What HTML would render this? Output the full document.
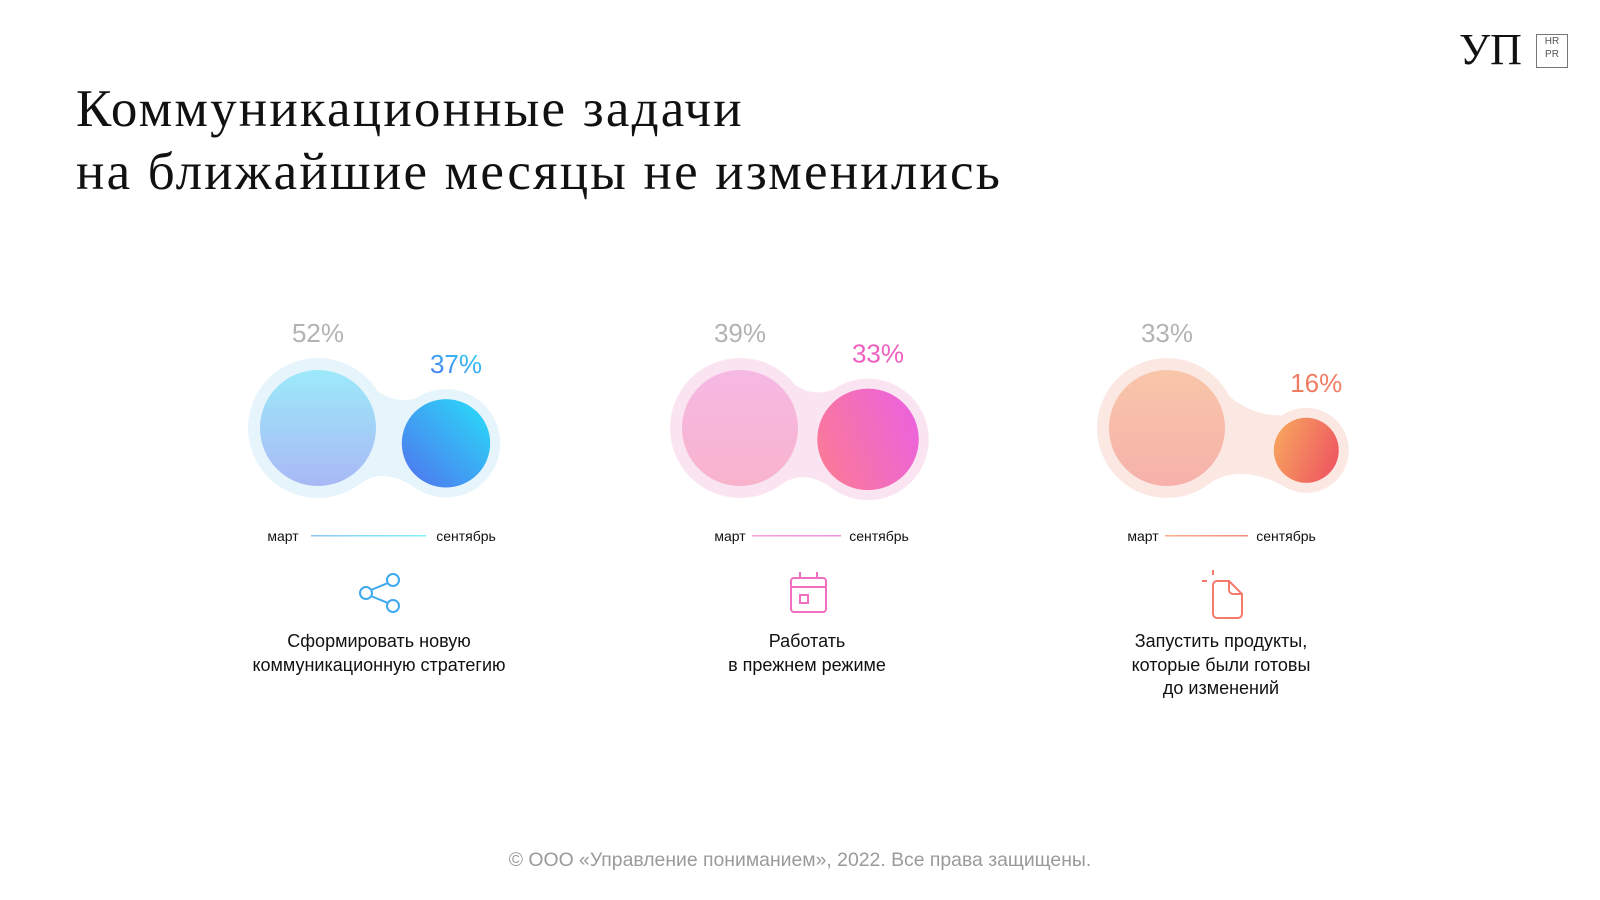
<!DOCTYPE html>
<html><head><meta charset="utf-8">
<style>
body{margin:0;width:1600px;height:900px;background:#fff;overflow:hidden;font-family:"Liberation Sans","Noto Sans CJK SC",sans-serif;}
#wrap{position:relative;width:1600px;height:900px;}
h1{position:absolute;left:76px;top:78px;margin:0;font-family:"Liberation Serif","Noto Serif CJK SC",serif;font-weight:normal;font-size:53px;line-height:63px;color:#111;letter-spacing:2.2px;}
.cap{position:absolute;width:320px;text-align:center;font-size:18px;line-height:23.5px;color:#111;}
.foot{position:absolute;left:0;width:1600px;top:849px;text-align:center;font-size:19.4px;color:#9a9a9a;}
</style></head><body>
<div id="wrap">
<h1>Коммуникационные задачи<br>на ближайшие месяцы не изменились</h1>
<div style="position:absolute;left:1459px;top:28px;font-family:'Liberation Serif',serif;font-size:44px;line-height:44px;color:#111;">УП</div>
<div style="position:absolute;left:1536px;top:34px;width:30px;height:32px;border:1.5px solid #777;font-size:10px;line-height:13px;text-align:center;color:#555;">HR<br>PR</div>
<svg id="chart" width="1600" height="900" style="position:absolute;left:0;top:0">
<defs>
<linearGradient id="b0" x1="0" y1="0" x2="0" y2="1"><stop offset="0" stop-color="#9ceafa"/><stop offset="1" stop-color="#a9b8f5"/></linearGradient>
<linearGradient id="s0" x1="0" y1="1" x2="1" y2="0"><stop offset="0" stop-color="#5270ee"/><stop offset="1" stop-color="#27e0f8"/></linearGradient>
<linearGradient id="b1" x1="0" y1="0" x2="0" y2="1"><stop offset="0" stop-color="#f6b9e4"/><stop offset="1" stop-color="#f8b3cc"/></linearGradient>
<linearGradient id="s1" x1="0" y1="0.7" x2="1" y2="0.3"><stop offset="0" stop-color="#fa7a98"/><stop offset="1" stop-color="#ec62dc"/></linearGradient>
<linearGradient id="b2" x1="0" y1="0" x2="0" y2="1"><stop offset="0" stop-color="#f9c6a9"/><stop offset="1" stop-color="#f6b1ab"/></linearGradient>
<linearGradient id="s2" x1="0" y1="0.3" x2="1" y2="0.7"><stop offset="0" stop-color="#f7a35f"/><stop offset="1" stop-color="#ee5660"/></linearGradient>
<linearGradient id="l0"><stop offset="0" stop-color="#8fc6f6"/><stop offset="1" stop-color="#7ef1fb"/></linearGradient>
<linearGradient id="l1"><stop offset="0" stop-color="#f6a0d6"/><stop offset="1" stop-color="#ee8fe0"/></linearGradient>
<linearGradient id="l2"><stop offset="0" stop-color="#f9b08a"/><stop offset="1" stop-color="#f58a7a"/></linearGradient>
<linearGradient id="t0" x1="0" y1="1" x2="1" y2="0"><stop offset="0" stop-color="#4f72ee"/><stop offset="1" stop-color="#2bd8f6"/></linearGradient>
</defs>
<g id="marks"></g>
<g fill="none" stroke="#3fa9f0" stroke-width="2">
<circle cx="366" cy="593" r="6"/><circle cx="393" cy="580" r="6"/><circle cx="393" cy="606" r="6"/>
<line x1="371" y1="590" x2="388" y2="583"/><line x1="371" y1="596" x2="388" y2="603"/></g>
<g fill="none" stroke="#f06fc0" stroke-width="2">
<rect x="791" y="578" width="35" height="34" rx="3"/><line x1="791" y1="587" x2="826" y2="587"/>
<line x1="800" y1="572" x2="800" y2="578"/><line x1="817" y1="572" x2="817" y2="578"/>
<rect x="800" y="595" width="8" height="8"/></g>
<g fill="none" stroke="#f57a6a" stroke-width="2">
<path d="M1217 581 H1229 L1242 594 V614 a4 4 0 0 1 -4 4 H1217 a4 4 0 0 1 -4 -4 V585 a4 4 0 0 1 4 -4 Z"/>
<path d="M1229 581 V590 a4 4 0 0 0 4 4 H1242"/>
<line x1="1202" y1="581" x2="1207" y2="581"/><line x1="1213" y1="570" x2="1213" y2="575"/></g>
</svg>
<div class="cap" style="left:219px;top:630px">Сформировать новую<br>коммуникационную стратегию</div>
<div class="cap" style="left:647px;top:630px">Работать<br>в прежнем режиме</div>
<div class="cap" style="left:1061px;top:630px">Запустить продукты,<br>которые были готовы<br>до изменений</div>
<div class="foot">© ООО «Управление пониманием», 2022. Все права защищены.</div>
</div>
<script>
const categories = ["strategy","previous-mode","launch-products"];
const marchValues = [52,39,33];
const septValues = [37,33,16];
const groupCenters = [318,740,1167];
const labelColors = ["#b3b3b3","#b3b3b3","#b3b3b3"];
const septColors = ["url(#t0)","#ee5fbf","#f07c62"];
const haloColors = ["#e6f4fb","#fbe4f2","#fbe8e3"];
// timeline layout: [march label x, line start, line end, september label x]
const timelineLayout = [[283,311,426,466],[730,752,841,879],[1143,1165,1248,1286]];
const NS="http://www.w3.org/2000/svg";
const g=document.getElementById('marks');
const BIG=58, CY=428;
function rScale(v,base){return BIG*Math.pow(v/base,0.8);}
function mk(tag,attrs){const e=document.createElementNS(NS,tag);for(const k in attrs)e.setAttribute(k,attrs[k]);return e;}
categories.forEach((c,i)=>{
  const bx=groupCenters[i], by=CY, rb=BIG;
  const rs=rScale(septValues[i],marchValues[i]);
  const sx=bx+128+Math.max(0,40-rs)*1.5, sy=by+16+(43-rs)*0.6;
  const hb=rb+12, hs=rs+10;
  const a1=-55*Math.PI/180, a2=-125*Math.PI/180;
  const p1=[bx+hb*Math.cos(a1),by+hb*Math.sin(a1)], p2=[sx+hs*Math.cos(a2),sy+hs*Math.sin(a2)];
  const q1=[bx+hb*Math.cos(-a1),by+hb*Math.sin(-a1)], q2=[sx+hs*Math.cos(-a2),sy+hs*Math.sin(-a2)];
  const mx=(bx+sx)/2, my=(by+sy)/2;
  const d=`M${p1} Q${mx},${my-hs*0.55} ${p2} L${q2} Q${mx},${my+hs*0.55} ${q1} Z`;
  const halo=mk('g',{});
  
  
  halo.appendChild(mk('path',{d:d,fill:haloColors[i]}));
  halo.appendChild(mk('circle',{cx:bx,cy:by,r:hb,fill:haloColors[i]}));
  halo.appendChild(mk('circle',{cx:sx,cy:sy,r:hs,fill:haloColors[i]}));
  g.appendChild(halo);
  const b=mk('circle',{cx:bx,cy:by,r:rb,fill:'url(#b'+i+')'});
  
  
  g.appendChild(b);
  const s=mk('circle',{cx:sx,cy:sy,r:rs,fill:'url(#s'+i+')'});
  
  
  g.appendChild(s);
  const t1=mk('text',{x:bx,y:by-rb-28,'text-anchor':'middle','font-size':26,fill:labelColors[i],'font-family':'Liberation Sans, sans-serif'});
  t1.textContent=marchValues[i]+'%';
  
  
  g.appendChild(t1);
  const t2=mk('text',{x:sx+10,y:sy-rs-26,'text-anchor':'middle','font-size':26,fill:septColors[i],'font-family':'Liberation Sans, sans-serif'});
  t2.textContent=septValues[i]+'%';
  
  
  g.appendChild(t2);
  const tl=timelineLayout[i];
  const m=mk('text',{x:tl[0],y:541,'text-anchor':'middle','font-size':14,fill:'#111'});
  m.textContent='март';
  
  
  g.appendChild(m);
  const ln=mk('rect',{x:tl[1],y:535,width:tl[2]-tl[1],height:1.5,fill:'url(#l'+i+')'});
  
  
  g.appendChild(ln);
  const se=mk('text',{x:tl[3],y:541,'text-anchor':'middle','font-size':14,fill:'#111'});
  se.textContent='сентябрь';
  
  
  g.appendChild(se);
});
</script>
</body></html>
